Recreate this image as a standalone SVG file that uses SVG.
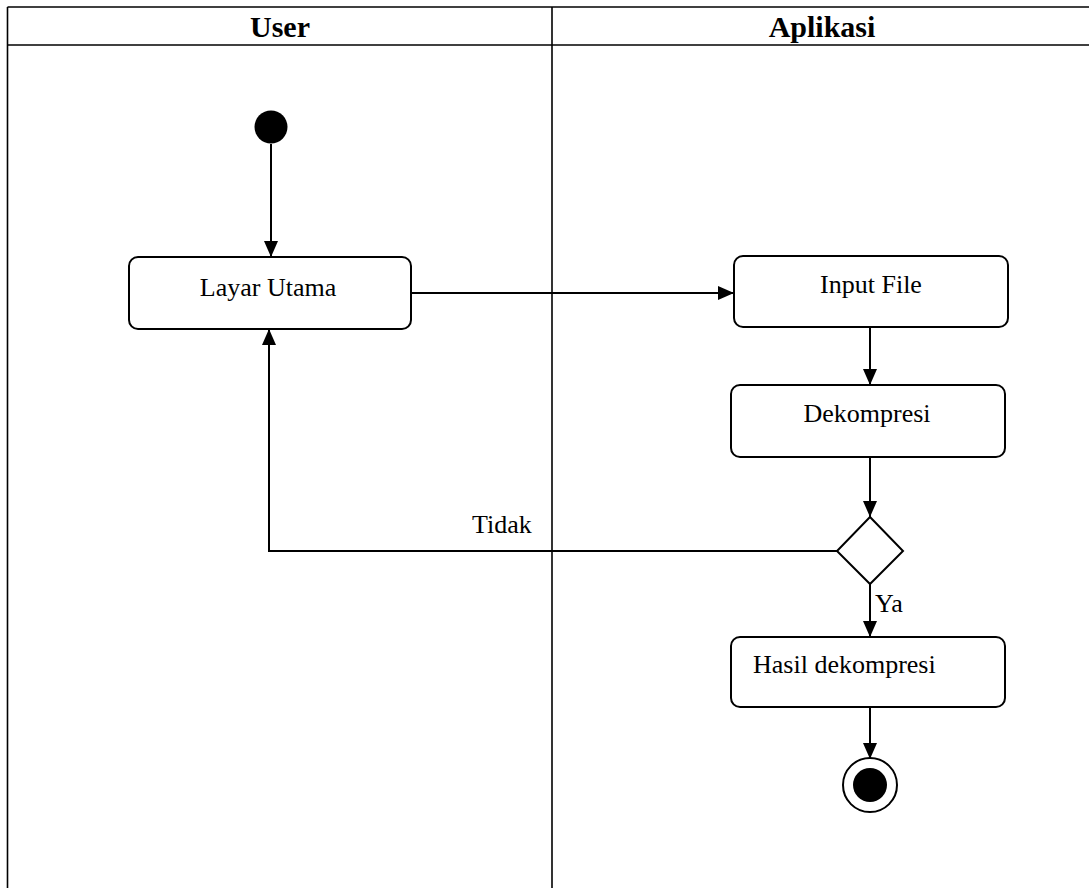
<svg xmlns="http://www.w3.org/2000/svg" width="1089" height="888" viewBox="0 0 1089 888">
<style>
.lane{stroke:#000;stroke-width:1.6;fill:none}
.box{fill:#fff;stroke:#000;stroke-width:2}
.conn{stroke:#000;stroke-width:2;fill:none}
.t{font-family:"Liberation Serif","Times New Roman",serif;font-size:26px;fill:#000}
.h{font-family:"Liberation Serif","Times New Roman",serif;font-size:30px;font-weight:bold;fill:#000}
</style>
<defs>
<marker id="arr" markerWidth="16" markerHeight="14" refX="16" refY="7" orient="auto" markerUnits="userSpaceOnUse">
<path d="M0,0 L16,7 L0,14 Z" fill="#000"/>
</marker>
</defs>
<rect x="0" y="0" width="1089" height="888" fill="#fff"/>
<g id="swimlanes">
<line class="lane" x1="7.5" y1="7" x2="1089" y2="7"/>
<line class="lane" x1="7.5" y1="45" x2="1089" y2="45"/>
<line class="lane" x1="7.5" y1="7" x2="7.5" y2="888"/>
<line class="lane" x1="552" y1="7" x2="552" y2="888"/>
<text class="h" x="280" y="37" text-anchor="middle">User</text>
<text class="h" x="822" y="37" text-anchor="middle">Aplikasi</text>
</g>
<g id="connectors">
<line class="conn" x1="271" y1="144" x2="271" y2="257" marker-end="url(#arr)"/>
<line class="conn" x1="411" y1="293" x2="734" y2="293" marker-end="url(#arr)"/>
<line class="conn" x1="870" y1="327" x2="870" y2="385" marker-end="url(#arr)"/>
<line class="conn" x1="870" y1="457" x2="870" y2="517" marker-end="url(#arr)"/>
<polyline class="conn" points="837,551 269,551 269,329" marker-end="url(#arr)"/>
<line class="conn" x1="870" y1="583" x2="870" y2="637" marker-end="url(#arr)"/>
<line class="conn" x1="870" y1="707" x2="870" y2="759" marker-end="url(#arr)"/>
<text class="t" x="472" y="533">Tidak</text>
<text class="t" x="875" y="612">Ya</text>
</g>
<g id="start">
<circle cx="271" cy="127" r="16.5" fill="#000"/>
</g>
<g id="layar-utama">
<rect class="box" x="129" y="257" width="282" height="72" rx="9"/>
<text class="t" x="268" y="296" text-anchor="middle">Layar Utama</text>
</g>
<g id="input-file">
<rect class="box" x="734" y="256" width="274" height="71" rx="9"/>
<text class="t" x="871" y="293" text-anchor="middle">Input File</text>
</g>
<g id="dekompresi">
<rect class="box" x="731" y="385" width="274" height="72" rx="9"/>
<text class="t" x="867" y="422" text-anchor="middle">Dekompresi</text>
</g>
<g id="decision">
<polygon class="box" points="870,517 903,551 870,584 837,551"/>
</g>
<g id="hasil-dekompresi">
<rect class="box" x="731" y="637" width="274" height="70" rx="9"/>
<text class="t" x="753" y="673">Hasil dekompresi</text>
</g>
<g id="end">
<circle cx="870" cy="785" r="27" fill="#fff" stroke="#000" stroke-width="2"/>
<circle cx="870" cy="785" r="17" fill="#000"/>
</g>
</svg>
